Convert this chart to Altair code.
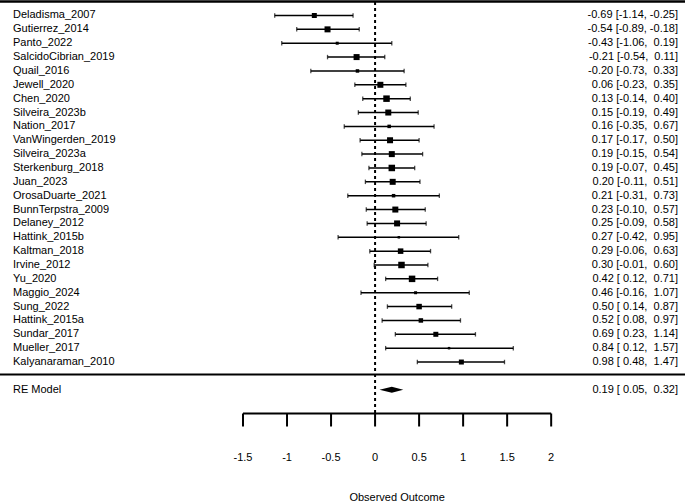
import altair as alt
import pandas as pd

W, H = 685, 503
FONT = "Liberation Sans"

studies = ["Deladisma_2007", "Gutierrez_2014", "Panto_2022", "SalcidoCibrian_2019",
           "Quail_2016", "Jewell_2020", "Chen_2020", "Silveira_2023b", "Nation_2017",
           "VanWingerden_2019", "Silveira_2023a", "Sterkenburg_2018", "Juan_2023",
           "OrosaDuarte_2021", "BunnTerpstra_2009", "Delaney_2012", "Hattink_2015b",
           "Kaltman_2018", "Irvine_2012", "Yu_2020", "Maggio_2024", "Sung_2022",
           "Hattink_2015a", "Sundar_2017", "Mueller_2017", "Kalyanaraman_2010"]
est = [-0.69, -0.54, -0.43, -0.21, -0.20, 0.06, 0.13, 0.15, 0.16, 0.17, 0.19, 0.19, 0.20,
       0.21, 0.23, 0.25, 0.27, 0.29, 0.30, 0.42, 0.46, 0.50, 0.52, 0.69, 0.84, 0.98]
lower = [-1.14, -0.89, -1.06, -0.54, -0.73, -0.23, -0.14, -0.19, -0.35, -0.17, -0.15, -0.07,
         -0.11, -0.31, -0.10, -0.09, -0.42, -0.06, -0.01, 0.12, -0.16, 0.14, 0.08, 0.23,
         0.12, 0.48]
upper = [-0.25, -0.18, 0.19, 0.11, 0.33, 0.35, 0.40, 0.49, 0.67, 0.50, 0.54, 0.45, 0.51,
         0.73, 0.57, 0.58, 0.95, 0.63, 0.60, 0.71, 1.07, 0.87, 0.97, 1.14, 1.57, 1.47]
# relative study weight
weight = [5, 6, 3, 6, 3.5, 6, 6.5, 6, 3.5, 6, 6, 6.5, 6, 3.5, 6, 6, 2.5, 5.5, 6.5, 6.5,
          3, 5.5, 4.5, 5, 2.5, 5]

re_label = "RE Model"
re_est, re_lower, re_upper = 0.19, 0.05, 0.32

tick_values = [-1.5, -1, -0.5, 0, 0.5, 1, 1.5, 2]
tick_labels = ["-1.5", "-1", "-0.5", "0", "0.5", "1", "1.5", "2"]
x_title = "Observed Outcome"

NB = "\u00a0"


def fmt(e, l, u):
    s = f"{e:.2f} [{l:5.2f}, {u:5.2f}]"
    return s.replace(" ", NB)


df = pd.DataFrame({
    "study": studies, "est": est, "lower": lower, "upper": upper, "weight": weight,
    "row": list(range(len(studies))),
})
df["annot"] = [fmt(e, l, u) for e, l, u in zip(est, lower, upper)]

RE_ROW = 27
re_df = pd.DataFrame({"label": [re_label], "row": [RE_ROW],
                      "annot": [fmt(re_est, re_lower, re_upper)]})
HALF = 0.22
diamond = pd.DataFrame({
    "x": [re_lower, re_est, re_upper],
    "y": [RE_ROW, RE_ROW - HALF, RE_ROW],
    "y2": [RE_ROW, RE_ROW + HALF, RE_ROW],
})

ticks_df = pd.DataFrame({"v": tick_values, "lab": tick_labels})
axis_df = pd.DataFrame({"a": [min(tick_values)], "b": [max(tick_values)]})
zero_df = pd.DataFrame({"z": [0]})
one = pd.DataFrame({"k": [0]})

xs = alt.Scale(domain=[-4.26, 3.52], range=[0, W], nice=False, zero=False)
ys = alt.Scale(domain=[-1.118, 35.17], range=[0, H], nice=False, zero=False)

X = lambda f: alt.X(f, type="quantitative", scale=xs, axis=None)
Y = lambda f: alt.Y(f, type="quantitative", scale=ys, axis=None)

base = alt.Chart(df)

top_line = alt.Chart(one).mark_rule(color="black", strokeWidth=2.5).encode(
    x=alt.value(0), x2=alt.value(W), y=alt.value(1.5))
sep_line = alt.Chart(one).mark_rule(color="black", strokeWidth=2).encode(
    x=alt.value(0), x2=alt.value(W), y=alt.value(374.5))

zero_line = alt.Chart(zero_df).mark_rule(color="black", strokeWidth=2,
                                         strokeDash=[3, 3]).encode(
    x=X("z"), y=alt.value(2), y2=alt.value(413))

whisk = base.mark_rule(color="black", strokeWidth=1.5).encode(
    x=X("lower"), x2="upper", y=Y("row"))

caps = base.transform_fold(["lower", "upper"], as_=["side", "val"]).mark_tick(
    color="black", orient="vertical", size=4.5, thickness=1.3).encode(
    x=X("val"), y=Y("row"))

squares = base.mark_square(color="black", opacity=1, filled=True).encode(
    x=X("est"), y=Y("row"),
    size=alt.Size("weight:Q", scale=alt.Scale(type="pow", exponent=2, domain=[0, 7],
                                              range=[0, 49]), legend=None))

left_txt = base.mark_text(align="left", baseline="middle", font=FONT, fontSize=11,
                          color="black").encode(x=alt.value(13), y=Y("row"), text="study")
right_txt = base.mark_text(align="right", baseline="middle", font=FONT, fontSize=11,
                           color="black").encode(x=alt.value(678), y=Y("row"), text="annot")

dia = alt.Chart(diamond).mark_area(color="black", orient="vertical", opacity=1).encode(
    x=X("x"), y=Y("y"), y2="y2")
re_left = alt.Chart(re_df).mark_text(align="left", baseline="middle", font=FONT,
                                     fontSize=11, color="black").encode(
    x=alt.value(13), y=Y("row"), text="label")
re_right = alt.Chart(re_df).mark_text(align="right", baseline="middle", font=FONT,
                                      fontSize=11, color="black").encode(
    x=alt.value(678), y=Y("row"), text="annot")

axis_line = alt.Chart(axis_df).mark_rule(color="black", strokeWidth=2).encode(
    x=X("a"), x2="b", y=alt.value(413.5))
axis_ticks = alt.Chart(ticks_df).mark_rule(color="black", strokeWidth=2).encode(
    x=X("v"), y=alt.value(413.5), y2=alt.value(426.5))
axis_labs = alt.Chart(ticks_df).mark_text(baseline="middle", align="center", font=FONT,
                                          fontSize=11, color="black").encode(
    x=X("v"), y=alt.value(458), text="lab")
title_df = pd.DataFrame({"t": [x_title], "c": [(min(tick_values) + max(tick_values)) / 2]})
title = alt.Chart(title_df).mark_text(baseline="middle", align="center", font=FONT,
                                      fontSize=11, color="black").encode(
    x=X("c"), y=alt.value(498), text="t")

chart = alt.layer(
    top_line, sep_line, zero_line, whisk, caps, squares, left_txt, right_txt,
    dia, re_left, re_right, axis_line, axis_ticks, axis_labs, title
).properties(
    width=W, height=H, padding=0, autosize=alt.AutoSizeParams(type="none"),
    background="white"
).configure_view(stroke=None)

chart.save("out.html", embed_options={"renderer": "svg", "actions": False})
